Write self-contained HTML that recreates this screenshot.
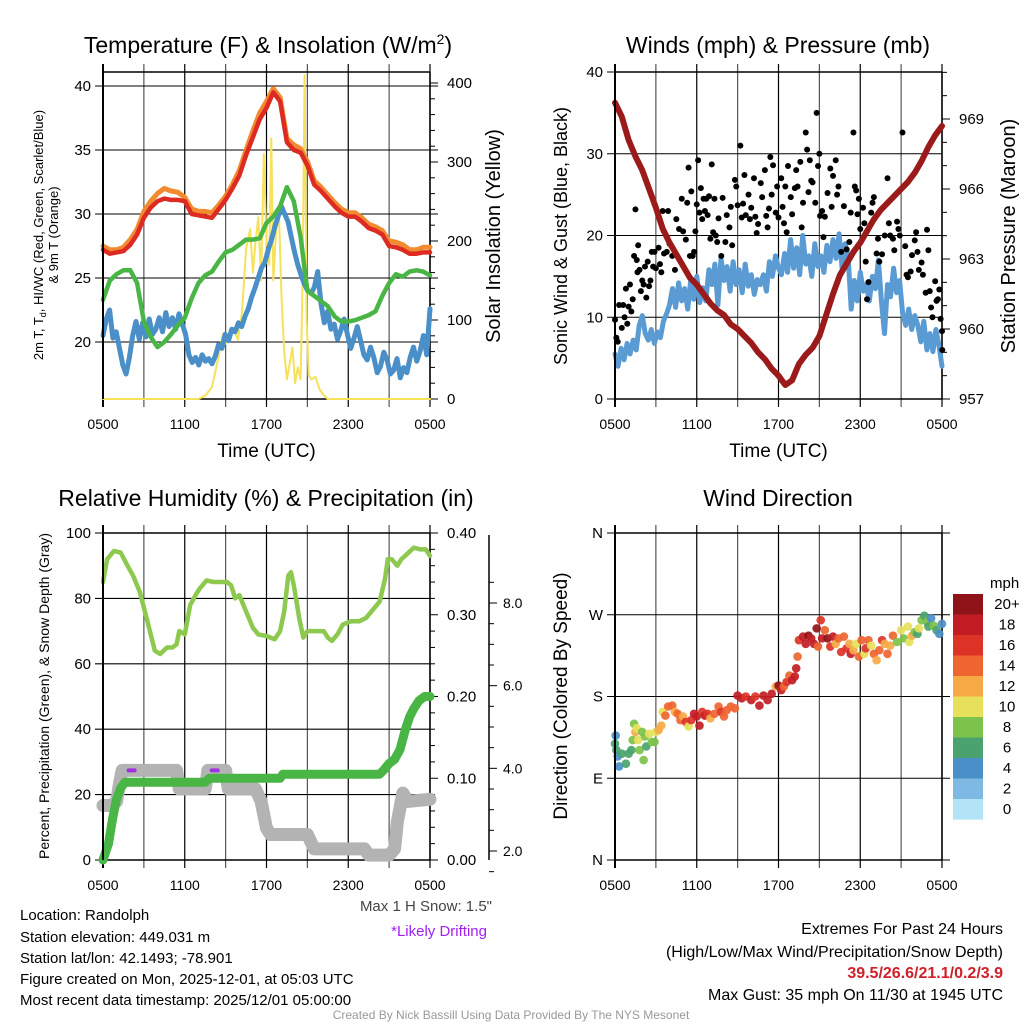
<!DOCTYPE html>
<html><head><meta charset="utf-8"><style>
html,body{margin:0;padding:0;background:#fff;}
svg{display:block;font-family:"Liberation Sans",Arial,sans-serif;}
</style></head><body>
<svg id="fig" width="1024" height="1024" viewBox="0 0 1024 1024">
<rect width="1024" height="1024" fill="#fff"/>
<text x="268" y="53" font-size="23" text-anchor="middle">Temperature (F) &amp; Insolation (W/m<tspan dy="-9" font-size="14">2</tspan><tspan dy="9">)</tspan></text>
<text x="778" y="53" font-size="23" text-anchor="middle">Winds (mph) &amp; Pressure (mb)</text>
<text x="266" y="506" font-size="23" text-anchor="middle">Relative Humidity (%) &amp; Precipitation (in)</text>
<text x="778" y="506" font-size="23" text-anchor="middle">Wind Direction</text>
<g id="layer"></g>
<g font-size="15">
<text x="20" y="920">Location: Randolph</text>
<text x="20" y="942">Station elevation: 449.031 m</text>
<text x="20" y="963">Station lat/lon: 42.1493; -78.901</text>
<text x="20" y="984">Figure created on Mon, 2025-12-01, at 05:03 UTC</text>
<text x="20" y="1005">Most recent data timestamp: 2025/12/01 05:00:00</text>
</g>
<text x="492" y="911" font-size="15" fill="#444" text-anchor="end">Max 1 H Snow: 1.5"</text>
<text x="487" y="936" font-size="15" fill="#a020f0" text-anchor="end">*Likely Drifting</text>
<g font-size="16" text-anchor="end">
<text x="1003" y="934">Extremes For Past 24 Hours</text>
<text x="1003" y="957">(High/Low/Max Wind/Precipitation/Snow Depth)</text>
<text x="1003" y="978" fill="#d0202a" font-weight="bold">39.5/26.6/21.1/0.2/3.9</text>
<text x="1003" y="1000">Max Gust: 35 mph On 11/30 at 1945 UTC</text>
</g>
<text x="511" y="1019" font-size="12" fill="#999" text-anchor="middle">Created By Nick Bassill Using Data Provided By The NYS Mesonet</text>
</svg>
<script>
// ---------- DATA ----------
const hrs = [0,0.5,1,1.5,2,2.5,3,3.5,4,4.5,5,5.5,6,6.5,7,7.5,8,8.5,9,9.5,10,10.5,11,11.5,12,12.5,13,13.5,14,14.5,15,15.5,16,16.5,17,17.5,18,18.5,19,19.5,20,20.5,21,21.5,22,22.5,23,23.5,24];
const tempRed = [27.2,26.9,27.0,27.1,27.6,28.4,29.7,30.5,31.0,31.2,31.1,31.1,31.0,30.0,29.9,29.8,29.7,30.4,31.1,32.0,33.0,34.6,36.0,37.4,38.3,39.5,38.8,35.6,35.0,34.8,33.8,32.3,31.8,31.2,30.6,30.1,29.8,29.8,29.4,28.9,28.7,28.4,27.5,27.4,27.2,26.9,26.9,27.0,27.0];
const tempOrange = [27.5,27.2,27.2,27.4,28.0,28.8,30.2,31.0,31.6,32.0,31.8,31.7,31.3,30.4,30.2,30.2,30.1,30.7,31.4,32.3,33.4,35.0,36.5,37.9,38.8,39.8,39.1,35.9,35.4,35.1,34.1,32.6,32.1,31.5,30.9,30.4,30.1,30.1,29.7,29.2,29.0,28.7,27.9,27.8,27.6,27.2,27.2,27.4,27.4];
const dewGreen = [23.3,24.8,25.3,25.6,25.6,24.6,21.6,20.4,19.6,20.0,20.6,21.3,21.9,23.4,24.6,25.2,25.5,26.3,27.0,27.2,27.6,28.0,28.0,28.1,29.3,29.8,30.6,32.1,31.0,28.2,24.0,23.6,23.2,22.8,22.0,21.6,21.6,21.7,21.9,22.1,22.4,23.6,24.6,25.3,25.1,25.5,25.6,25.5,25.2];
const chillBlue = [20.5,21.8,22.5,20.3,20.8,19.5,18.2,17.5,18.8,20.5,21.6,20.2,21.5,20.4,21.8,20.6,21.0,21.9,20.8,22.3,21.2,21.9,21.0,22.2,21.4,20.6,19.0,18.4,18.8,18.2,19.0,18.5,18.7,18.3,18.9,19.8,19.5,20.6,20.1,21.0,20.8,21.5,21.2,22.0,22.6,23.5,24.2,25.0,25.8,26.2,27.2,28.0,29.0,29.8,30.6,30.0,29.4,28.2,27.0,26.0,25.2,24.5,24.0,23.8,24.3,25.5,23.0,21.5,22.4,21.0,21.4,20.2,20.9,21.8,20.6,19.5,20.3,21.2,20.1,19.0,18.6,19.6,18.8,17.6,18.1,19.2,18.6,17.5,17.8,18.7,17.2,18.0,17.6,18.8,19.6,18.5,19.3,20.5,19.0,22.6];
const solarHrs = [0,7.0,7.5,8.0,8.5,8.8,9.0,9.3,9.6,9.9,10.2,10.5,10.8,11.0,11.2,11.4,11.6,11.8,12.0,12.2,12.35,12.5,12.7,12.9,13.1,13.3,13.5,13.7,13.9,14.1,14.3,14.5,14.65,14.8,14.95,15.1,15.3,15.6,15.9,16.2,16.5,24];
const solarVals = [0,0,4,15,55,82,70,80,90,75,110,190,215,160,200,230,150,310,200,170,330,150,210,240,130,60,25,45,65,20,40,25,150,410,100,30,25,28,12,5,0,0];
const pressure = [969.7,969.1,968.1,967.4,966.8,966.0,965.2,964.3,963.7,963.2,962.7,962.2,961.9,961.5,961.1,960.8,960.6,960.2,960.0,959.7,959.4,959.0,958.7,958.3,958.0,957.6,957.8,958.5,958.9,959.2,959.7,960.6,961.5,962.3,962.8,963.3,963.7,964.2,964.7,965.1,965.4,965.7,966.0,966.3,966.7,967.2,967.8,968.3,968.7];
const windSpd = [5.5,4.0,6.2,4.8,6.8,5.5,7.2,6.0,9.0,10.2,8.0,7.2,8.5,6.8,8.2,7.5,9.5,10.4,11.5,13.5,11.2,14.2,12.0,13.5,11.0,14.5,12.2,15.0,11.8,13.6,12.0,15.8,14.0,16.5,11.5,17.2,14.5,16.2,13.2,16.8,14.0,15.8,13.0,16.5,13.8,15.2,12.8,14.6,14.0,15.2,13.2,16.8,15.0,17.5,16.0,15.2,17.8,15.5,19.5,16.0,18.5,15.2,20.0,16.5,17.5,15.0,19.0,16.2,17.5,15.5,18.8,16.8,19.5,17.2,20.2,16.0,19.0,17.5,11.0,14.5,12.0,15.5,13.2,14.0,12.0,15.0,13.5,17.0,12.0,8.0,14.0,12.5,16.0,13.0,14.5,10.5,9.0,11.0,8.5,10.2,9.0,7.0,9.5,6.0,8.0,5.8,8.5,6.5,4.0];
const gustHrs = [0,0.1,0.2,0.3,0.5,0.6,0.7,0.8,0.9,1,1.1,1.2,1.3,1.4,1.5,1.6,1.65,1.7,1.8,1.9,2,2.1,2.2,2.3,2.4,2.5,2.6,2.7,2.8,2.9,3,3.2,3.3,3.4,3.5,3.6,3.8,3.9,4,4.2,4.4,4.5,4.7,4.9,5,5.2,5.3,5.4,5.5,5.6,5.7,5.8,5.9,6,6.1,6.2,6.3,6.4,6.5,6.6,6.7,6.8,6.9,7,7.1,7.2,7.3,7.4,7.5,7.6,7.8,7.9,8.1,8.2,8.4,8.5,8.6,8.8,8.9,9,9.2,9.3,9.4,9.5,9.6,9.8,9.9,10,10.2,10.3,10.4,10.5,10.7,10.8,11,11.1,11.2,11.3,11.4,11.5,11.6,11.8,11.9,12,12.2,12.3,12.4,12.5,12.6,12.7,12.9,13,13.2,13.3,13.4,13.6,13.7,13.8,14,14.1,14.2,14.3,14.4,14.5,14.7,14.8,14.9,15,15.05,15.2,15.3,15.4,15.6,15.8,15.9,16,16.2,16.3,16.4,16.6,16.8,17,17.2,17.3,17.5,17.6,17.7,17.8,17.9,18,18.2,18.3,18.4,18.5,18.6,18.8,18.9,19,19.2,19.3,19.4,19.6,19.8,20,20.1,20.2,20.4,20.5,20.7,20.8,20.9,21.1,21.3,21.4,21.5,21.7,21.8,22,22.1,22.2,22.3,22.5,22.6,22.8,22.9,23,23.1,23.2,23.3,23.5,23.6,23.7,23.8,23.9,24,24.02];
const gustVals = [9.7,7.5,7,11.5,8.7,11.5,10,13.5,9.2,11.3,14,10.7,12.2,17.5,23.2,17,15.5,18.8,15.8,13.2,14.5,14,16.2,12.4,16.8,13.8,14.5,18,16.2,18,16,18.5,16.5,15.5,23,17.8,18,23,19,17.5,15.8,22,20.8,24.5,20.5,19.5,24,28.3,17.5,25.4,17.5,18,20.5,23.8,29.2,22.8,25.8,22,24.5,23,24.5,22.5,24.8,19.6,28.7,20.4,24.5,20,19.2,22.1,17.5,24.6,19.2,22.5,21,23.5,18.8,26.8,26,23.7,31,22.2,23.9,27.4,22.5,25,22,23.4,27,22.3,20.3,21.4,26.4,24.7,28,22.4,21,23.3,29.6,25,28.6,22.8,26,22.2,27,23.5,21.5,26,20.4,28.5,24.7,22.6,25.8,28,26,29,21,24,32.6,30.5,25.3,29.2,26.7,26.5,24,35,28.5,30,22.4,23,19.8,22.3,25.2,28.2,23.5,27.3,29.2,25,26,18,23.6,18.3,19.2,22.8,32.6,26,25.5,22.6,24.5,20.8,23.4,21.5,16.8,12.2,14.3,22.8,24,24.7,17.8,19.6,16.8,17.7,20,27,21.5,20,19.6,18.2,21.7,20.8,20,32.6,18.7,15.2,14.9,15.6,17.6,19.4,20.4,18,15.8,16.7,15.2,13,20.7,18.2,13.2,11.2,10,14.4,12,12.2,13.4,9.8,8.3,6];
const rhHrs = [0,0.3,0.8,1.3,1.8,2.2,2.7,3.2,3.8,4.2,4.7,5.1,5.4,5.6,6.0,6.4,6.8,7.1,7.6,8.1,8.6,9.1,9.4,9.7,10.0,10.5,11.0,11.4,12.0,12.3,12.6,13.0,13.3,13.6,13.8,14.0,14.4,14.7,15.0,15.6,16.2,16.5,16.8,17.2,17.6,18.2,18.8,19.3,20.0,20.3,20.7,20.9,21.2,21.6,21.9,22.3,22.8,23.3,23.7,24];
const rhVals = [85,92,94.5,94,90,87,82,74,64,63,65,65,66,70,69,78,81,83,85.5,85,85,85,84,80,81,76,71,69,68.5,68,67.5,70,76,87,88,84,74,68,70,70,70,68,67,69,72,73,73,74,77.5,79,86,92,92,90,92,93.5,95.5,95,95,93];
const precipHrs = [0,0.4,0.7,1.0,1.3,1.6,2,7.5,7.8,8,13,13.2,13.5,20.3,20.6,21,21.4,21.8,22.2,22.5,22.8,23.2,23.6,24];
const precipVals = [0,0.02,0.05,0.075,0.088,0.095,0.095,0.095,0.1,0.1,0.1,0.105,0.105,0.105,0.11,0.118,0.123,0.135,0.16,0.175,0.185,0.195,0.2,0.2];
const snowHrs = [0,0.6,1.0,1.2,1.4,5.4,5.6,7.5,7.7,9.0,9.2,11.2,11.6,12.0,12.3,15.0,15.5,19.2,19.5,21.0,21.4,21.6,22.0,22.4,24];
const snowVals = [3.1,3.1,3.2,3.6,3.95,3.95,3.5,3.5,3.95,3.95,3.5,3.5,3.2,2.55,2.4,2.4,2.05,2.05,1.9,1.9,2.05,2.7,3.4,3.2,3.25];
const driftHrs = [2.1,8.2];
const driftVals = [3.95,3.95];
const dirHrs = [0,0.05,0.1,0.2,0.3,0.5,0.8,1,1.2,1.3,1.4,1.5,1.6,1.7,1.8,2.0,2.1,2.2,2.3,2.5,2.7,2.9,3.0,3.2,3.4,3.5,3.7,3.9,4.2,4.4,4.6,4.8,5.0,5.2,5.4,5.6,5.8,6,6.2,6.4,6.6,6.8,7.0,7.3,7.6,7.8,8.0,8.2,8.5,8.8,9.0,9.3,9.6,10,10.3,10.6,10.9,11.2,11.5,11.8,12,12.2,12.4,12.6,12.8,13,13.2,13.3,13.4,13.5,13.8,14,14.2,14.4,14.6,14.8,14.9,15.1,15.2,15.4,15.6,15.8,16,16.2,16.4,16.6,16.8,17,17.2,17.3,17.5,17.7,17.9,18.1,18.3,18.4,18.6,18.8,19,19.2,19.4,19.6,19.8,20,20.2,20.4,20.7,21,21.2,21.5,21.6,21.8,22,22.2,22.3,22.5,22.7,22.9,23,23.2,23.4,23.6,23.8,24];
const dirDeg = [128,137,121,114,103,117,106,117,121,132,150,141,145,132,121,141,110,136,125,139,130,130,141,143,148,163,159,169,170,163,161,154,158,152,147,154,161,158,148,163,159,161,156,161,169,163,158,165,169,167,181,178,180,176,180,170,181,176,183,191,192,187,191,196,203,198,202,211,224,242,246,238,247,244,238,255,235,264,244,253,244,235,246,238,244,229,246,233,238,227,231,238,224,242,227,233,242,236,227,220,231,242,238,227,236,247,240,253,244,257,240,247,251,249,255,264,269,262,257,266,258,253,249,260];
const dirSpd = [6,4,6,4,4,6,6,6,6,8,8,12,10,10,8,8,8,8,6,10,8,8,10,12,12,10,14,14,14,12,14,14,12,16,10,16,18,18,18,16,18,16,12,14,14,16,14,14,14,14,18,18,16,18,16,18,18,18,18,12,20,18,14,16,14,18,18,18,14,16,18,18,20,18,18,20,14,16,18,14,20,16,18,12,14,16,14,16,12,18,12,10,14,14,10,16,14,10,14,12,14,16,12,14,12,14,8,10,8,10,10,12,8,6,10,8,6,8,6,4,8,6,4,4];
const cbLabels = ["20+","18","16","14","12","10","8","6","4","2","0"];
const cbColors = ["#8f1419","#c21d25","#dd3327","#ef6530","#f5aa45","#e6e05a","#7dc24a","#4aa36e","#4a8fc7","#7db9e3","#b3e3f7"];
const timeLabels = ["0500","1100","1700","2300","0500"];
const tempTicks = [20,25,30,35,40];
const windTicks = [0,10,20,30,40];
const rhTicks = [0,20,40,60,80,100];
const precipTicks = ["0.00","0.10","0.20","0.30","0.40"];
const snowTicks = [2,4,6,8];
const dirTicks = ["N","E","S","W","N"];

// ---------- HELPERS ----------
const NS="http://www.w3.org/2000/svg";
const layer=document.getElementById('layer');
function mk(tag,attrs,parent){const e=document.createElementNS(NS,tag);for(const k in attrs)e.setAttribute(k,attrs[k]);(parent||layer).appendChild(e);return e;}
function lin(d0,d1,r0,r1){return v=>r0+(v-d0)/(d1-d0)*(r1-r0);}
function evenHours(arr){return arr.map((_,i)=>i*24/(arr.length-1));}
function pathFrom(xs,ys,fx,fy){let d='';for(let i=0;i<xs.length;i++){d+=(i?'L':'M')+fx(xs[i]).toFixed(1)+','+fy(ys[i]).toFixed(1);}return d;}

function frame(P,name){
  const g=mk('g',{});
  
  
  const fx=lin(0,24,P.x0,P.x1);
  for(let h=0;h<=24;h+=3){
    const x=fx(h);
    const l=mk('line',{x1:x,x2:x,y1:P.y0-8,y2:P.y1+8,stroke:(h%6===0)?'#000':'#555','stroke-width':h===0?2:1.2},g);
    
    
  }
  timeLabels.forEach((t,i)=>{
    const tx=mk('text',{x:fx(i*6),y:P.y1+30,'font-size':14,'text-anchor':'middle'},g);
    tx.textContent=t;
    
    
  });
  mk('line',{x1:P.x0,x2:P.x1,y1:P.y0,y2:P.y0,stroke:'#000','stroke-width':1.5},g);
  mk('line',{x1:P.x0,x2:P.x1,y1:P.y1,y2:P.y1,stroke:'#000','stroke-width':1.5},g);
  mk('line',{x1:P.x1,x2:P.x1,y1:P.y0,y2:P.y1,stroke:'#000','stroke-width':1.5},g);
  return fx;
}
function hGrid(P,y,label,ext){
  const l=mk('line',{x1:P.x0-8,x2:P.x1+(ext?8:0),y1:y,y2:y,stroke:'#000','stroke-width':1.1});
  
  
  const t=mk('text',{x:P.x0-12,y:y+5,'font-size':15,'text-anchor':'end'});
  t.textContent=label;
  
  
}
function rTick(P,y,label,minor){
  mk('line',{x1:P.x1,x2:P.x1+(minor?5:8),y1:y,y2:y,stroke:'#000','stroke-width':1});
  if(label!==null){
    const t=mk('text',{x:P.x1+17,y:y+5,'font-size':15});
    t.textContent=label;
    
    
  }
}
function vLabel(x,y,txt,size,name){
  const t=mk('text',{x:x,y:y,'font-size':size,'text-anchor':'middle',transform:`rotate(-90 ${x} ${y})`});
  t.textContent=txt;
  
  
  return t;
}
function xTitle(P){
  const t=mk('text',{x:(P.x0+P.x1)/2,y:P.y1+58,'font-size':19,'text-anchor':'middle'});
  t.textContent='Time (UTC)';
  
  
}
function line(xs,ys,fx,fy,color,w,name){
  const p=mk('path',{d:pathFrom(xs,ys,fx,fy),fill:'none',stroke:color,'stroke-width':w,'stroke-linejoin':'round','stroke-linecap':'round'});
  
  
  return p;
}

// ---------- PANEL 1 ----------
const P1={x0:103,x1:430,y0:72,y1:399};
let fx=frame(P1,'temperature');
let fyT=lin(20,40,342,86), fyS=lin(0,400,399,83);
tempTicks.forEach(v=>hGrid(P1,fyT(v),String(v),true));
for(let v=0;v<=400;v+=20) rTick(P1,fyS(v),v%100===0?String(v):null,v%100!==0);
line(solarHrs,solarVals,fx,fyS,'#f5e15a',2,'solar-insolation-line');
line(evenHours(chillBlue),chillBlue,fx,fyT,'#4a8fc7',5,'wind-chill-line');
line(hrs,dewGreen,fx,fyT,'#49b545',4.5,'dewpoint-line');
line(hrs,tempOrange,fx,fyT,'#f28a30',5,'temp-9m-line');
line(hrs,tempRed,fx,fyT,'#dd2a22',4.5,'temp-2m-line');
mk('line',{x1:P1.x0,x2:P1.x0,y1:P1.y0,y2:P1.y1,stroke:'#000','stroke-width':2});
vLabel(43,235,'',13,'left-axis-title-line1').innerHTML='2m T, T<tspan font-size="9" dy="3">d</tspan><tspan dy="-3">, HI/WC (Red, Green, Scarlet/Blue)</tspan>';
vLabel(58,235,'& 9m T (Orange)',13,'left-axis-title-line2');
vLabel(500,236,'Solar Insolation (Yellow)',20,'right-axis-title');
xTitle(P1);

// ---------- PANEL 2 ----------
const P2={x0:615,x1:942,y0:72,y1:399};
fx=frame(P2,'winds');
let fyW=lin(0,40,399,72), fyP=lin(957,969,399,119);
windTicks.forEach(v=>hGrid(P2,fyW(v),String(v),false));
for(let v=957;v<=971;v+=1) rTick(P2,fyP(v),(v-957)%3===0?String(v):null,(v-957)%3!==0);
line(evenHours(windSpd),windSpd,fx,fyW,'#5a9bd3',5,'sonic-wind-line');
gustHrs.forEach((h,i)=>{
  const c=mk('circle',{cx:fx(h),cy:fyW(gustVals[i]),r:3,fill:'#000'});
  
  
});
line(hrs,pressure,fx,fyP,'#9b1a1a',6,'pressure-line');
mk('line',{x1:P2.x0,x2:P2.x0,y1:P2.y0,y2:P2.y1,stroke:'#000','stroke-width':2});
vLabel(567,236,'Sonic Wind & Gust (Blue, Black)',18,'left-axis-title');
vLabel(1015,236,'Station Pressure (Maroon)',20,'right-axis-title');
xTitle(P2);

// ---------- PANEL 3 ----------
const P3={x0:103,x1:430,y0:533,y1:860};
fx=frame(P3,'humidity');
let fyR=lin(0,100,860,533), fyPr=lin(0,0.4,860,533), fySn=lin(2,8,851,603);
rhTicks.forEach(v=>hGrid(P3,fyR(v),String(v),false));
for(let k=0;k<=40;k+=2) rTick(P3,fyPr(k/100),k%10===0?precipTicks[k/10]:null,k%10!==0);
mk('line',{x1:489,x2:489,y1:535,y2:860,stroke:'#000','stroke-width':1.5});
for(let v=1.5;v<=8.8;v+=0.5){
  const major=Math.abs(v-Math.round(v/2)*2)<0.01 && v>=2;
  mk('line',{x1:489,x2:major?497:494,y1:fySn(v),y2:fySn(v),stroke:'#000','stroke-width':1});
}
snowTicks.forEach(v=>{
  const t=mk('text',{x:503,y:fySn(v)+5,'font-size':14});
  t.textContent=v.toFixed(1);
  
  
});
line(snowHrs,snowVals,fx,fySn,'#b3b3b3',13,'snow-depth-line');
driftHrs.forEach((h,i)=>{
  const d=mk('line',{x1:fx(h)-3,x2:fx(h)+3,y1:fySn(driftVals[i]),y2:fySn(driftVals[i]),stroke:'#a030e0','stroke-width':4,'stroke-linecap':'round'});
  
  
});
line(precipHrs,precipVals,fx,fyPr,'#49b545',9,'precipitation-line');
line(rhHrs,rhVals,fx,fyR,'#8dc84f',4.5,'humidity-line');
mk('line',{x1:P3.x0,x2:P3.x0,y1:P3.y0,y2:P3.y1,stroke:'#000','stroke-width':2});
vLabel(49,696,'Percent, Precipitation (Green), & Snow Depth (Gray)',14,'left-axis-title');

// ---------- PANEL 4 ----------
const P4={x0:615,x1:942,y0:533,y1:860};
fx=frame(P4,'direction');
let fyD=lin(0,360,860,533);
dirTicks.forEach((t,i)=>hGrid(P4,fyD(i*90),t,true));
function spdColor(s){const idx=Math.min(10,Math.floor(s/2));return cbColors[10-idx];}
dirHrs.forEach((h,i)=>{
  const c=mk('circle',{cx:fx(h),cy:fyD(dirDeg[i]),r:4.3,fill:spdColor(dirSpd[i]),'fill-opacity':0.92});
  
  
});
mk('line',{x1:P4.x0,x2:P4.x0,y1:P4.y0,y2:P4.y1,stroke:'#000','stroke-width':2});
vLabel(567,696,'Direction (Colored By Speed)',19,'left-axis-title');
const cbT=mk('text',{x:990,y:588,'font-size':15});
cbT.textContent='mph';


cbColors.forEach((c,i)=>{
  const r=mk('rect',{x:953,y:594+i*20.5,width:30,height:20.6,fill:c});
  
  
  const t=mk('text',{x:1007,y:609+i*20.5,'font-size':15,'text-anchor':'middle'});
  t.textContent=cbLabels[i];
  
  
});
</script>
</body></html>
